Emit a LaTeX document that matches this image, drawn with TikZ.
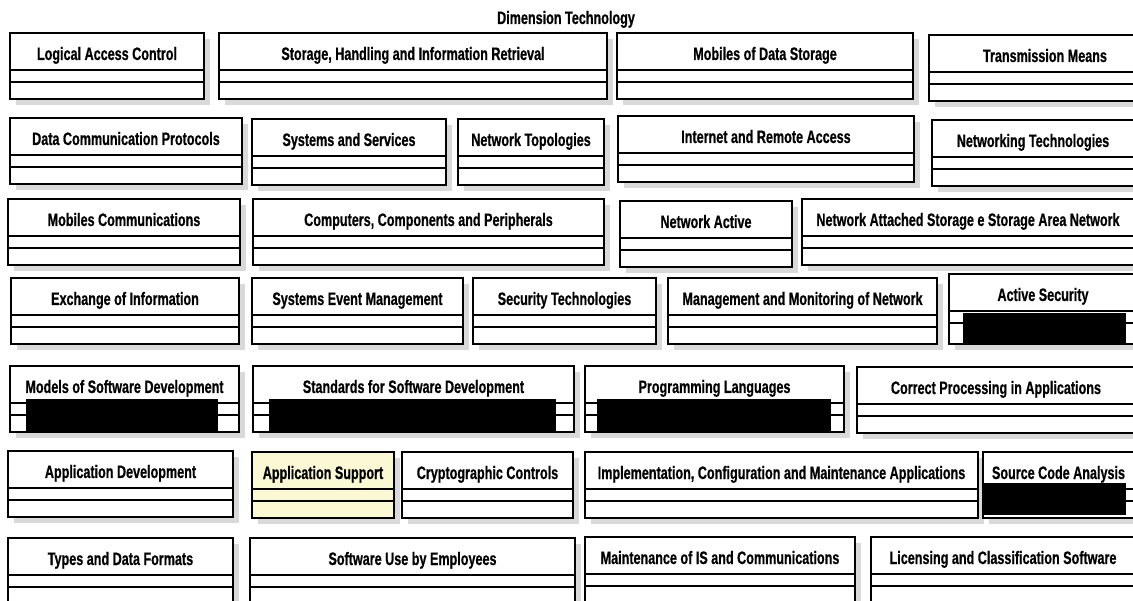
\documentclass[tikz,border=0pt]{standalone}
\usepackage{fontspec}
\setmainfont{Liberation Sans}[FakeStretch=0.70, BoldFeatures={FakeBold=0.6}]
\usepackage{tikz}
\usetikzlibrary{positioning,calc}
\definecolor{sombragris}{HTML}{D9D9D9}
\definecolor{amarillo}{HTML}{FBF8D4}
\tikzset{
  caja/.style={rectangle, draw=black, line width=2.2pt, fill=white,
    anchor=north west, outer sep=0pt, inner sep=0pt},
  sombra/.style={fill=sombragris},
  separador/.style={draw=black, line width=1.4pt},
  titulo/.style={font=\bfseries\fontsize{18}{20}\selectfont, inner sep=0pt, anchor=base},
  tachado/.style={fill=black},
}
% caja de clase: [estilo]{nombre}{x1}{y1}{x2}{y2}{texto}
\newcommand{\clase}[7][]{%
  \pgfmathsetmacro\anchoc{#5-#3}%
  \pgfmathsetmacro\altoc{#6-#4}%
  \fill[sombra] (#3+6,#4+6) rectangle (#5+6,#6+6);
  \node[caja, #1, minimum width=\anchoc pt, minimum height=\altoc pt] (#2) at (#3,#4) {};
  \draw[separador] ([yshift=-37pt]#2.north west) -- ([yshift=-37pt]#2.north east);
  \draw[separador] ([yshift=-49pt]#2.north west) -- ([yshift=-49pt]#2.north east);
  \node[titulo] (#2-t) at ([yshift=-27pt]#2.north) {#7};
}
\begin{document}
\begin{tikzpicture}[x=1pt, y=-1pt]
    \useasboundingbox (0,0) rectangle (1133,601);
    \clip (0,0) rectangle (1133,601);
    \node[titulo] (dimension) at (566,24) {Dimension Technology};
    % Fila 1
    \clase{acceso}{10}{33}{204}{99}{Logical Access Control}
    \clase{almacen}{219}{33}{607}{99}{Storage, Handling and Information Retrieval}
    \clase{moviles}{617}{33}{913}{99}{Mobiles of Data Storage}
    \clase{transm}{929}{35}{1161}{101}{Transmission Means}
    % Fila 2
    \clase{protocolos}{10}{118}{242}{184}{Data Communication Protocols}
    \clase{sistemas}{252}{119}{446}{185}{Systems and Services}
    \clase{topologias}{458}{119}{604}{185}{Network Topologies}
    \clase{internet}{618}{116}{914}{182}{Internet and Remote Access}
    \clase{redes}{932}{120}{1134}{186}{Networking Technologies}
    % Fila 3
    \clase{comunic}{8}{199}{240}{265}{Mobiles Communications}
    \clase{equipos}{253}{199}{604}{265}{Computers, Components and Peripherals}
    \clase{activos}{620}{201}{792}{267}{Network Active}
    \clase{nas}{802}{199}{1134}{265}{Network Attached Storage e Storage Area Network}
    % Fila 4
    \clase{intercambio}{11}{278}{239}{344}{Exchange of Information}
    \clase{eventos}{252}{278}{463}{344}{Systems Event Management}
    \clase{seguridad}{473}{278}{656}{344}{Security Technologies}
    \clase{monitoreo}{668}{278}{937}{344}{Management and Monitoring of Network}
    \clase{activa}{949}{274}{1137}{344}{Active Security}
    % Fila 5
    \clase{modelos}{10}{366}{239}{432}{Models of Software Development}
    \clase{estandares}{253}{366}{574}{432}{Standards for Software Development}
    \clase{lenguajes}{585}{366}{844}{432}{Programming Languages}
    \clase{proceso}{857}{367}{1135}{433}{Correct Processing in Applications}
    % Fila 6
    \clase{desarrollo}{8}{451}{233}{517}{Application Development}
    \clase[fill=amarillo]{soporte}{252}{452}{394}{518}{Application Support}
    \clase{cripto}{402}{452}{573}{518}{Cryptographic Controls}
    \clase{implement}{585}{452}{978}{518}{Implementation, Configuration and Maintenance Applications}
    \clase{codigo}{983}{452}{1134}{518}{Source Code Analysis}
    % Fila 7
    \clase{tipos}{8}{538}{233}{604}{Types and Data Formats}
    \clase{uso}{250}{538}{575}{604}{Software Use by Employees}
    \clase{mantenim}{585}{537}{855}{603}{Maintenance of IS and Communications}
    \clase{licencias}{871}{537}{1135}{603}{Licensing and Classification Software}
    % Zonas tachadas
    \fill[tachado] (26,399) rectangle (218,431);
    \fill[tachado] (269,399) rectangle (556,431);
    \fill[tachado] (597,399) rectangle (831,431);
    \fill[tachado] (963,313) rectangle (1126,345);
    \fill[tachado] (984,483) rectangle (1126,515);
  \end{tikzpicture}
\end{document}
